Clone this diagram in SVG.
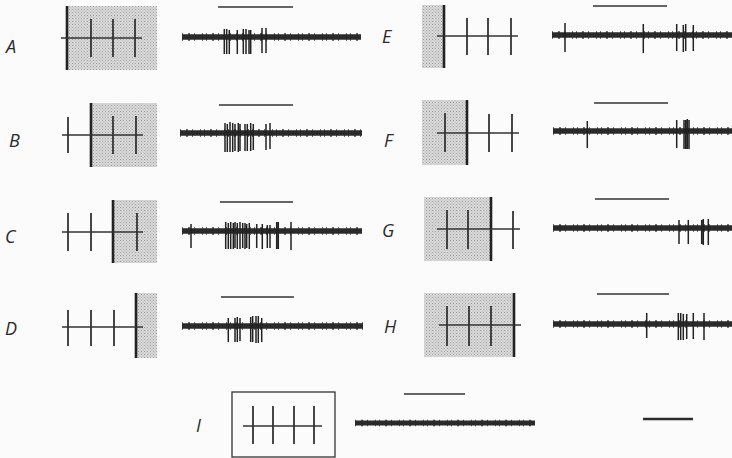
<svg xmlns="http://www.w3.org/2000/svg" width="732" height="458" viewBox="0 0 732 458">
<defs>
<pattern id="stip" width="3" height="3" patternUnits="userSpaceOnUse">
<rect width="3" height="3" fill="#d9d9d9"/>
<rect x="0" y="0" width="1" height="1" fill="#a0a0a0"/>
<rect x="1.5" y="1.5" width="1" height="1" fill="#b4b4b4"/>
</pattern>
<style>
.lbl{font-family:"Open Sans","Liberation Sans",sans-serif;font-style:italic;font-size:18px;fill:#2a2a2a}
.field{fill:url(#stip)}
.edge{stroke:#222;stroke-width:2.6;fill:none}
.axis{stroke:#333;stroke-width:1.6;fill:none}
.tick{stroke:#333;stroke-width:1.8;fill:none}
.bar{stroke:#333;stroke-width:1.5;fill:none}
.trace{stroke:#2a2a2a;stroke-width:5.5;fill:none}
.noise{stroke:#2a2a2a;stroke-width:7.5;stroke-dasharray:1 5 2 4 1 7 1 3;fill:none;opacity:0.85}
.spk{stroke:#222;stroke-width:1.5;fill:none}
</style>
</defs>
<rect width="732" height="458" fill="#fbfbfb"/>

<g id="panelA">
<text class="lbl" x="6" y="53">A</text>
<rect class="field" x="67" y="6" width="90" height="64"/>
<line class="edge" x1="67" y1="6" x2="67" y2="70"/>
<line class="axis" x1="61" y1="38" x2="142" y2="38"/>
<path class="tick" d="M91 19V57M113 19V57M135 19V57"/>
<line class="bar" x1="218" y1="7" x2="293" y2="7"/>
<line class="trace" x1="182" y1="37" x2="361" y2="37"/>
<line class="noise" x1="182" y1="37" x2="361" y2="37"/>
<path class="spk" d="M224.3 29V54M226.7 29V54M229.3 30V54M237.3 30V54M243.3 29V54M246 29V54M249 30V54M250.7 30V54M262 28V53M266 28V53"/>
</g>

<g id="panelB">
<text class="lbl" x="9" y="147">B</text>
<rect class="field" x="91" y="103" width="66" height="64"/>
<line class="edge" x1="91" y1="103" x2="91" y2="167"/>
<line class="axis" x1="62" y1="135" x2="143" y2="135"/>
<path class="tick" d="M68 117V153M113 116V154M136 116V154"/>
<line class="bar" x1="219" y1="105" x2="293" y2="105"/>
<line class="trace" x1="180" y1="133" x2="362" y2="133"/>
<line class="noise" x1="180" y1="133" x2="362" y2="133"/>
<path class="spk" d="M225 123V152M227.3 124V152M230 122V152M232.7 123V152M235 124V151M238.3 123V152M240 124V151M245 124V151M247.3 124V151M250.7 123V151M253.3 124V150M266 124V150M270 123V149"/>
</g>

<g id="panelC">
<text class="lbl" x="5" y="243">C</text>
<rect class="field" x="113" y="200" width="44" height="63"/>
<line class="edge" x1="113" y1="200" x2="113" y2="263"/>
<line class="axis" x1="62" y1="232" x2="143" y2="232"/>
<path class="tick" d="M68 213V251M91 213V251M137 213V251"/>
<line class="bar" x1="220" y1="202" x2="293" y2="202"/>
<line class="trace" x1="182" y1="231" x2="362" y2="231"/>
<line class="noise" x1="182" y1="231" x2="362" y2="231"/>
<path class="spk" d="M191 224V248M225.7 222V249M228.3 223V249M230.7 222V249M233.3 223V249M235 222V248M237.3 223V249M240 222V249M242.7 223V248M245 223V249M246.7 224V248M249.3 223V249M256.7 224V248M262.3 224V249M267.3 225V248M270 225V248M276.7 222V249M278.3 222V249M291 222V250"/>
</g>

<g id="panelD">
<text class="lbl" x="5" y="335">D</text>
<rect class="field" x="136" y="293" width="21" height="65"/>
<line class="edge" x1="136" y1="293" x2="136" y2="358"/>
<line class="axis" x1="62" y1="327" x2="143" y2="327"/>
<path class="tick" d="M68 310V346M91 310V346M114 310V346"/>
<line class="bar" x1="221" y1="297" x2="294" y2="297"/>
<line class="trace" x1="182" y1="326" x2="363" y2="326"/>
<line class="noise" x1="182" y1="326" x2="363" y2="326"/>
<path class="spk" d="M228.3 318V342M235 318V342M237.3 317V342M240 318V341M250.7 317V342M252.7 316V342M256 316V343M258.3 316V343M261.7 318V342"/>
</g>

<g id="panelE">
<text class="lbl" x="382" y="43">E</text>
<rect class="field" x="422" y="5" width="22" height="63"/>
<line class="edge" x1="444" y1="5" x2="444" y2="68"/>
<line class="axis" x1="437" y1="36" x2="518" y2="36"/>
<path class="tick" d="M467 18V55M488 18V55M511 18V55"/>
<line class="bar" x1="593" y1="6" x2="667" y2="6"/>
<line class="trace" x1="552" y1="35" x2="732" y2="35"/>
<line class="noise" x1="552" y1="35" x2="732" y2="35"/>
<path class="spk" d="M565 23V52M643.3 24V53M676.7 24V51M683.3 25V52M685.7 24V51M693.3 25V51"/>
</g>

<g id="panelF">
<text class="lbl" x="384" y="147">F</text>
<rect class="field" x="422" y="100" width="45" height="65"/>
<line class="edge" x1="467" y1="100" x2="467" y2="165"/>
<line class="axis" x1="437" y1="133" x2="519" y2="133"/>
<path class="tick" d="M445 113V152M489 114V152M512 114V152"/>
<line class="bar" x1="594" y1="103" x2="668" y2="103"/>
<line class="trace" x1="553" y1="131" x2="732" y2="131"/>
<line class="noise" x1="553" y1="131" x2="732" y2="131"/>
<path class="spk" d="M587.3 121V148M676.7 120V148M684 120V149M685.7 120V149M687.3 119V149M689 120V149"/>
</g>

<g id="panelG">
<text class="lbl" x="382" y="237">G</text>
<rect class="field" x="424" y="197" width="67" height="64"/>
<line class="edge" x1="491" y1="197" x2="491" y2="261"/>
<line class="axis" x1="437" y1="229" x2="520" y2="229"/>
<path class="tick" d="M447 210V249M468 210V249M513 211V249"/>
<line class="bar" x1="595" y1="199" x2="669" y2="199"/>
<line class="trace" x1="553" y1="228" x2="732" y2="228"/>
<line class="noise" x1="553" y1="228" x2="732" y2="228"/>
<path class="spk" d="M679 220V244M688.3 220V244M701.7 220V244M703.3 219V245M708.3 219V245"/>
</g>

<g id="panelH">
<text class="lbl" x="384" y="333">H</text>
<rect class="field" x="424" y="293" width="90" height="64"/>
<line class="edge" x1="514" y1="293" x2="514" y2="357"/>
<line class="axis" x1="439" y1="325" x2="521" y2="325"/>
<path class="tick" d="M447 306V346M469 306V346M491 306V346"/>
<line class="bar" x1="597" y1="294" x2="669" y2="294"/>
<line class="trace" x1="553" y1="324" x2="732" y2="324"/>
<line class="noise" x1="553" y1="324" x2="732" y2="324"/>
<path class="spk" d="M646.7 313V338M678.3 313V340M680.7 313V340M683.3 314V340M686.7 314V339M693.3 313V339M704 313V340"/>
</g>

<g id="panelI">
<text class="lbl" x="196" y="432">I</text>
<rect x="232" y="392" width="103" height="65" fill="none" stroke="#333" stroke-width="1.3"/>
<line class="axis" x1="243" y1="426" x2="322" y2="426"/>
<path class="tick" d="M253 406V444M273 406V444M294 406V444M314 406V444"/>
<line class="bar" x1="404" y1="394" x2="465" y2="394"/>
<line class="trace" x1="355" y1="423" x2="535" y2="423" style="stroke-width:5"/>
<line class="noise" x1="355" y1="423" x2="535" y2="423" style="stroke-width:6.5"/>
</g>

<g id="scalebar">
<line x1="643" y1="419" x2="693" y2="419" stroke="#2b2b2b" stroke-width="2.5"/>
</g>
</svg>
